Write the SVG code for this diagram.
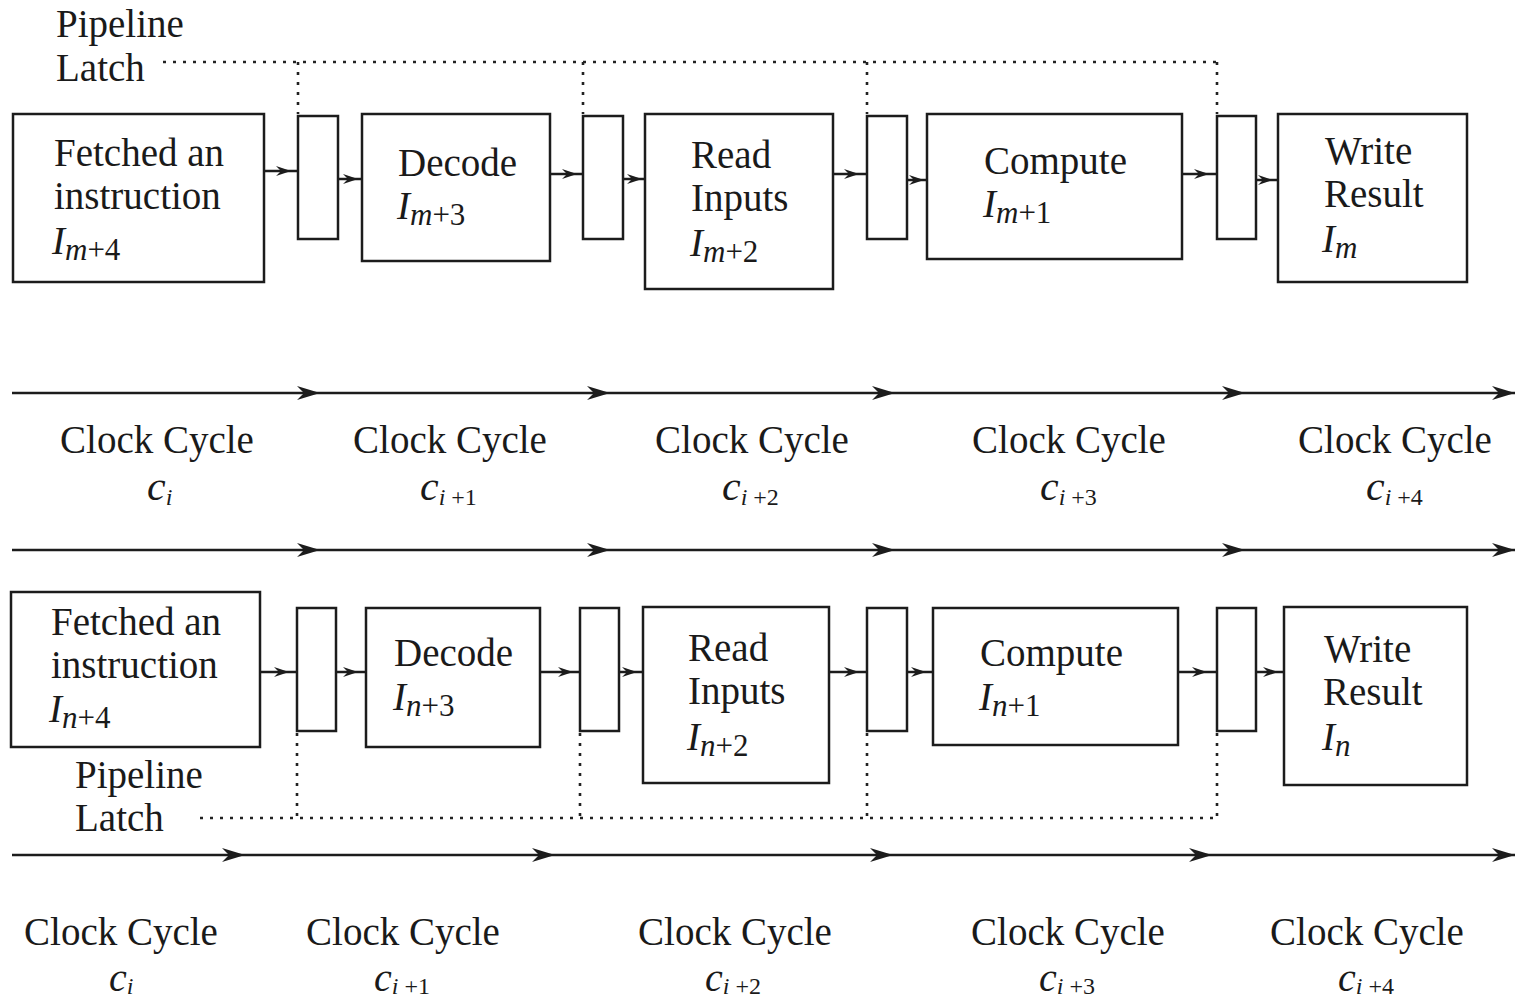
<svg xmlns="http://www.w3.org/2000/svg" width="1516" height="1003" viewBox="0 0 1516 1003">
  <defs>
    <style>
      .box { fill: #fff; stroke: #1c1c1c; stroke-width: 2.5; }
      .latch { fill: #fff; stroke: #1c1c1c; stroke-width: 2.5; }
      .wire { fill: none; stroke: #1c1c1c; stroke-width: 2.5; }
      .clk { fill: none; stroke: #1c1c1c; stroke-width: 2.6; }
      .dots { fill: none; stroke: #222; stroke-width: 2.6; stroke-dasharray: 3 7; }
      text { font-family: "Liberation Serif", "Times New Roman", serif; font-size: 39px; fill: #1a1a1a; }
      .it { font-style: italic; }
      .sub { font-size: 31px; }
      .cv { font-size: 42px; }
      .cvb { font-size: 40px; }
      .csub { font-size: 24px; }
    </style>
    <marker id="ah" markerUnits="userSpaceOnUse" markerWidth="18" markerHeight="14" viewBox="-16 -7 18 14" refX="0" refY="0" orient="auto">
      <path d="M0 0 L-15 -5 L-10 0 L-15 5 Z" fill="#1c1c1c"/>
    </marker>
    <marker id="big" markerUnits="userSpaceOnUse" markerWidth="26" markerHeight="16" viewBox="-24 -8 26 16" refX="0" refY="0" orient="auto">
      <path d="M0 0 L-23 -7 L-16 0 L-23 7 Z" fill="#1c1c1c"/>
    </marker>
  </defs>

  <rect width="1516" height="1003" fill="#fff"/>

  <!-- pipeline latch dotted guides -->
  <g id="latch-guides">
    <path class="dots" d="M163 62 H1217 M298 62 V114 M583 62 V114 M867 62 V114 M1217 62 V114"/>
    <path class="dots" d="M200 818 H1217 M297 733 V818 M580 733 V818 M867 733 V818 M1217 733 V818"/>
  </g>

  <!-- connectors -->
  <g id="connectors">
    <!-- upper pipeline -->
    <path class="wire" d="M264 171 H291 H298" marker-mid="url(#ah)"/>
    <path class="wire" d="M338 179 H358 H361" marker-mid="url(#ah)"/>
    <path class="wire" d="M550 174 H577 H583" marker-mid="url(#ah)"/>
    <path class="wire" d="M623 179 H642 H645" marker-mid="url(#ah)"/>
    <path class="wire" d="M833 174 H859 H867" marker-mid="url(#ah)"/>
    <path class="wire" d="M907 180 H924 H927" marker-mid="url(#ah)"/>
    <path class="wire" d="M1182 174 H1209 H1217" marker-mid="url(#ah)"/>
    <path class="wire" d="M1256 180 H1273 H1278" marker-mid="url(#ah)"/>
    <!-- lower pipeline -->
    <path class="wire" d="M260 672 H289 H297" marker-mid="url(#ah)"/>
    <path class="wire" d="M336 672 H358 H366" marker-mid="url(#ah)"/>
    <path class="wire" d="M540 672 H573 H580" marker-mid="url(#ah)"/>
    <path class="wire" d="M619 672 H637 H643" marker-mid="url(#ah)"/>
    <path class="wire" d="M829 672 H859 H867" marker-mid="url(#ah)"/>
    <path class="wire" d="M907 672 H926 H933" marker-mid="url(#ah)"/>
    <path class="wire" d="M1178 672 H1207 H1217" marker-mid="url(#ah)"/>
    <path class="wire" d="M1256 672 H1278 H1284" marker-mid="url(#ah)"/>
    <!-- clock timelines -->
    <path class="clk" d="M12 393 H320 H610 H895 H1245 H1515" marker-mid="url(#big)" marker-end="url(#big)"/>
    <path class="clk" d="M12 550 H320 H610 H895 H1245 H1515" marker-mid="url(#big)" marker-end="url(#big)"/>
    <path class="clk" d="M12 855 H245 H555 H893 H1212 H1515" marker-mid="url(#big)" marker-end="url(#big)"/>
  </g>

  <!-- upper labels -->
  <g id="latch-label-top">
    <text x="56" y="37">Pipeline</text>
    <text x="56" y="81">Latch</text>
  </g>

  <!-- upper pipeline stages -->
  <g id="fetch-m">
    <rect class="box" x="13" y="114" width="251" height="168"/>
    <text x="54" y="166">Fetched an</text>
    <text x="54" y="209">instruction</text>
    <text x="52" y="254"><tspan class="it">I</tspan><tspan class="it sub" dy="6">m</tspan><tspan class="sub">+4</tspan></text>
  </g>
  <g id="latch-m1"><rect class="latch" x="298" y="116" width="40" height="123"/></g>
  <g id="decode-m">
    <rect class="box" x="362" y="114" width="188" height="147"/>
    <text x="398" y="176">Decode</text>
    <text x="397" y="219"><tspan class="it">I</tspan><tspan class="it sub" dy="6">m</tspan><tspan class="sub">+3</tspan></text>
  </g>
  <g id="latch-m2"><rect class="latch" x="583" y="116" width="40" height="123"/></g>
  <g id="read-m">
    <rect class="box" x="645" y="114" width="188" height="175"/>
    <text x="691" y="168">Read</text>
    <text x="691" y="211">Inputs</text>
    <text x="690" y="256"><tspan class="it">I</tspan><tspan class="it sub" dy="6">m</tspan><tspan class="sub">+2</tspan></text>
  </g>
  <g id="latch-m3"><rect class="latch" x="867" y="116" width="40" height="123"/></g>
  <g id="compute-m">
    <rect class="box" x="927" y="114" width="255" height="145"/>
    <text x="984" y="174">Compute</text>
    <text x="983" y="217"><tspan class="it">I</tspan><tspan class="it sub" dy="6">m</tspan><tspan class="sub">+1</tspan></text>
  </g>
  <g id="latch-m4"><rect class="latch" x="1217" y="116" width="39" height="123"/></g>
  <g id="write-m">
    <rect class="box" x="1278" y="114" width="189" height="168"/>
    <text x="1325" y="164">Write</text>
    <text x="1324" y="207">Result</text>
    <text x="1322" y="252"><tspan class="it">I</tspan><tspan class="it sub" dy="6">m</tspan></text>
  </g>

  <!-- upper clock cycle labels -->
  <g id="cycles-top">
    <text x="157" y="453" text-anchor="middle">Clock Cycle</text>
    <text x="450" y="453" text-anchor="middle">Clock Cycle</text>
    <text x="752" y="453" text-anchor="middle">Clock Cycle</text>
    <text x="1069" y="453" text-anchor="middle">Clock Cycle</text>
    <text x="1395" y="453" text-anchor="middle">Clock Cycle</text>
    <text x="147" y="500"><tspan class="it cv">c</tspan><tspan class="it csub" dy="5">i</tspan></text>
    <text x="420" y="500"><tspan class="it cv">c</tspan><tspan class="it csub" dy="5">i</tspan><tspan class="csub"> +1</tspan></text>
    <text x="722" y="500"><tspan class="it cv">c</tspan><tspan class="it csub" dy="5">i</tspan><tspan class="csub"> +2</tspan></text>
    <text x="1040" y="500"><tspan class="it cv">c</tspan><tspan class="it csub" dy="5">i</tspan><tspan class="csub"> +3</tspan></text>
    <text x="1366" y="500"><tspan class="it cv">c</tspan><tspan class="it csub" dy="5">i</tspan><tspan class="csub"> +4</tspan></text>
  </g>

  <!-- lower pipeline stages -->
  <g id="fetch-n">
    <rect class="box" x="11" y="592" width="249" height="155"/>
    <text x="51" y="635">Fetched an</text>
    <text x="51" y="678">instruction</text>
    <text x="49" y="722"><tspan class="it">I</tspan><tspan class="it sub" dy="6">n</tspan><tspan class="sub">+4</tspan></text>
  </g>
  <g id="latch-n1"><rect class="latch" x="297" y="608" width="39" height="123"/></g>
  <g id="decode-n">
    <rect class="box" x="366" y="608" width="174" height="139"/>
    <text x="394" y="666">Decode</text>
    <text x="393" y="710"><tspan class="it">I</tspan><tspan class="it sub" dy="6">n</tspan><tspan class="sub">+3</tspan></text>
  </g>
  <g id="latch-n2"><rect class="latch" x="580" y="608" width="39" height="123"/></g>
  <g id="read-n">
    <rect class="box" x="643" y="607" width="186" height="176"/>
    <text x="688" y="661">Read</text>
    <text x="688" y="704">Inputs</text>
    <text x="687" y="750"><tspan class="it">I</tspan><tspan class="it sub" dy="6">n</tspan><tspan class="sub">+2</tspan></text>
  </g>
  <g id="latch-n3"><rect class="latch" x="867" y="608" width="40" height="123"/></g>
  <g id="compute-n">
    <rect class="box" x="933" y="608" width="245" height="137"/>
    <text x="980" y="666">Compute</text>
    <text x="979" y="710"><tspan class="it">I</tspan><tspan class="it sub" dy="6">n</tspan><tspan class="sub">+1</tspan></text>
  </g>
  <g id="latch-n4"><rect class="latch" x="1217" y="608" width="39" height="123"/></g>
  <g id="write-n">
    <rect class="box" x="1284" y="607" width="183" height="178"/>
    <text x="1324" y="662">Write</text>
    <text x="1323" y="705">Result</text>
    <text x="1322" y="750"><tspan class="it">I</tspan><tspan class="it sub" dy="6">n</tspan></text>
  </g>

  <g id="latch-label-bottom">
    <text x="75" y="788">Pipeline</text>
    <text x="75" y="831">Latch</text>
  </g>

  <!-- lower clock cycle labels -->
  <g id="cycles-bottom">
    <text x="121" y="945" text-anchor="middle">Clock Cycle</text>
    <text x="403" y="945" text-anchor="middle">Clock Cycle</text>
    <text x="735" y="945" text-anchor="middle">Clock Cycle</text>
    <text x="1068" y="945" text-anchor="middle">Clock Cycle</text>
    <text x="1367" y="945" text-anchor="middle">Clock Cycle</text>
    <text x="109" y="991"><tspan class="it cvb">c</tspan><tspan class="it csub" dy="3">i</tspan></text>
    <text x="374" y="991"><tspan class="it cvb">c</tspan><tspan class="it csub" dy="3">i</tspan><tspan class="csub"> +1</tspan></text>
    <text x="705" y="991"><tspan class="it cvb">c</tspan><tspan class="it csub" dy="3">i</tspan><tspan class="csub"> +2</tspan></text>
    <text x="1039" y="991"><tspan class="it cvb">c</tspan><tspan class="it csub" dy="3">i</tspan><tspan class="csub"> +3</tspan></text>
    <text x="1338" y="991"><tspan class="it cvb">c</tspan><tspan class="it csub" dy="3">i</tspan><tspan class="csub"> +4</tspan></text>
  </g>
</svg>
